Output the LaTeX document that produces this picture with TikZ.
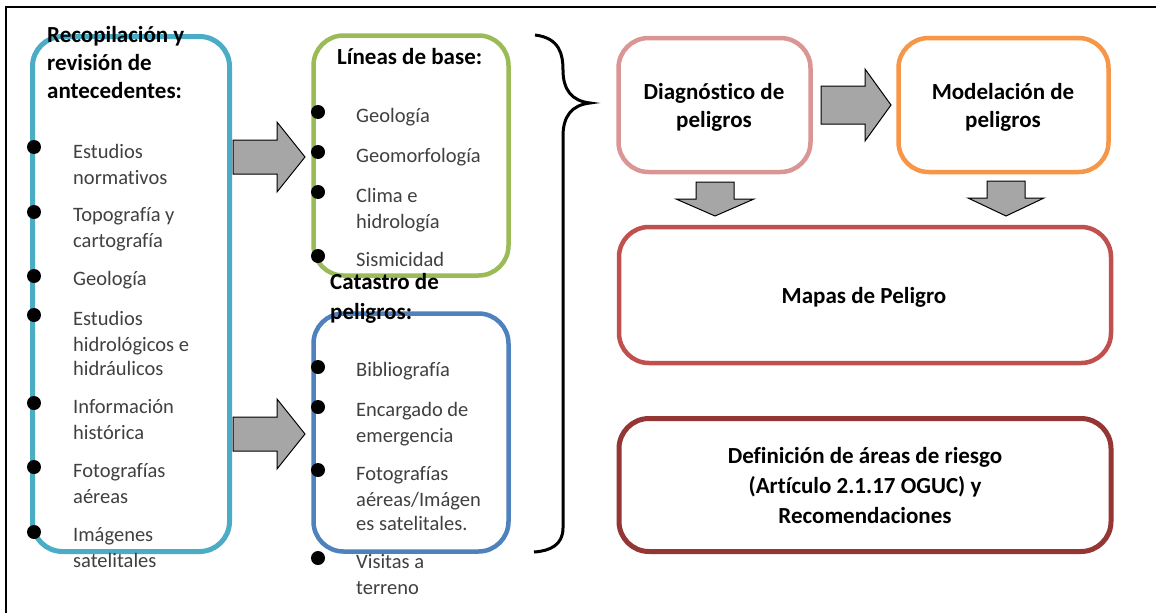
\documentclass[tikz,border=0pt]{standalone}
\usepackage{fontspec}
\setmainfont{Carlito}[RawFeature=-liga]
\definecolor{cyanb}{HTML}{4BACC6}
\definecolor{greenb}{HTML}{9BBB59}
\definecolor{blueb}{HTML}{4F81BD}
\definecolor{pinkb}{HTML}{D99694}
\definecolor{orangeb}{HTML}{F79646}
\definecolor{redb}{HTML}{C0504D}
\definecolor{dredb}{HTML}{943634}
\definecolor{txtg}{HTML}{404040}
\definecolor{arrg}{HTML}{A6A6A6}
\newcommand\rarr[6]{\filldraw[blockarrow] (#1,{#4-#5}) -- (#2,{#4-#5}) -- (#2,{#4-#6}) -- (#3,#4) -- (#2,{#4+#6}) -- (#2,{#4+#5}) -- (#1,{#4+#5}) -- cycle;}
\newcommand\darr[6]{\filldraw[blockarrow] ({#4-#5},#1) -- ({#4-#5},#2) -- ({#4-#6},#2) -- (#4,#3) -- ({#4+#6},#2) -- ({#4+#5},#2) -- ({#4+#5},#1) -- cycle;}
\tikzset{
  rbox/.style={rounded corners=30pt, fill=white, inner sep=0pt},
  blockarrow/.style={fill=arrg, draw=black, line width=1pt, line join=miter},
  itm/.style={anchor=base west, inner sep=0pt, text=txtg, font=\fontsize{20.5}{25}\selectfont},
  hdr/.style={anchor=base west, inner sep=0pt, text=black, font=\fontsize{23}{28}\selectfont\bfseries},
  ctr/.style={anchor=base, inner sep=0pt, text=black, font=\fontsize{23}{28}\selectfont\bfseries},
  bul/.style={circle, fill=black, inner sep=0pt, minimum size=14pt}
}
\begin{document}
\begin{tikzpicture}[x=1pt,y=-1pt]
\useasboundingbox (0,0) rectangle (1156,613);
\fill[white] (0,0) rectangle (1156,613);
\draw[line width=2pt] (6,613) -- (6,7) -- (1156,7);
% boxes
\node[rbox, draw=cyanb, line width=5pt, minimum width=197pt, minimum height=515pt] (lb) at (131,294) {};
\node[rbox, draw=greenb, line width=4.5pt, minimum width=195pt, minimum height=240pt] (gb) at (411,155.5) {};
\node[rbox, draw=blueb, line width=4.5pt, minimum width=195pt, minimum height=238pt] (bb) at (411,432.5) {};
\node[rbox, draw=pinkb, line width=4.5pt, minimum width=192pt, minimum height=134pt] (pb) at (714.5,105) {};
\node[rbox, draw=orangeb, line width=4.5pt, minimum width=210pt, minimum height=134pt] (ob) at (1003.5,105) {};
\node[rbox, draw=redb, line width=4.5pt, minimum width=492pt, minimum height=136pt] (mb) at (865,295) {};
\node[rbox, draw=dredb, line width=5pt, minimum width=492pt, minimum height=133pt] (db) at (865,485) {};
% block arrows
\rarr{233}{277}{305}{157}{17}{35}
\rarr{233}{277}{305}{434}{17}{35}
\rarr{821}{865}{891}{105}{19}{36}
\darr{182}{199}{216}{715}{19}{39}
\darr{181}{198}{216}{1006}{19}{38}
% brace
\draw[line width=3pt] (535,35) .. controls (560,38) and (563,55) .. (563,70) .. controls (563,90) and (572,101) .. (590,103) .. controls (572,105) and (563,116) .. (563,136) -- (563,528) .. controls (563,545) and (550,551) .. (534,552);
% left box text
\node[hdr] (h1a) at (47,42) {Recopilación y};
\node[hdr] (h1b) at (47,70) {revisión de};
\node[hdr] (h1c) at (47,98) {antecedentes:};
\foreach \y/\n in {147/l1,212/l2,276/l3,315/l4,403/l5,467/l6,532/l7} \node[bul] (\n) at (34,\y) {};
\node[itm] (t1a) at (73,158) {Estudios};
\node[itm] (t1b) at (73,184) {normativos};
\node[itm] (t2a) at (73,221) {Topografía y};
\node[itm] (t2b) at (73,247) {cartografía};
\node[itm] (t3a) at (73,285) {Geología};
\node[itm] (t4a) at (73,325) {Estudios};
\node[itm] (t4b) at (73,351) {hidrológicos e};
\node[itm] (t4c) at (73,375) {hidráulicos};
\node[itm] (t5a) at (73,413) {Información};
\node[itm] (t5b) at (73,439) {histórica};
\node[itm] (t6a) at (73,477) {Fotografías};
\node[itm] (t6b) at (73,503) {aéreas};
\node[itm] (t7a) at (73,541) {Imágenes};
\node[itm] (t7b) at (73,567) {satelitales};
% green box text
\node[hdr] (h2) at (337,64) {Líneas de base:};
\foreach \y/\n in {112/g1,152/g2,192/g3,256/g4} \node[bul] (\n) at (318,\y) {};
\node[itm] (u1) at (356,122) {Geología};
\node[itm] (u2) at (356,162) {Geomorfología};
\node[itm] (u3a) at (356,202) {Clima e};
\node[itm] (u3b) at (356,228) {hidrología};
\node[itm] (u4) at (356,266) {Sismicidad};
% blue box text
\node[hdr] (h3a) at (330,289) {Catastro de};
\node[hdr] (h3b) at (330,319) {peligros:};
\foreach \y/\n in {367/b1,407/b2,470/b3,558/b4} \node[bul] (\n) at (318,\y) {};
\node[itm] (v1) at (356,376) {Bibliografía};
\node[itm] (v2a) at (356,416) {Encargado de};
\node[itm] (v2b) at (356,442) {emergencia};
\node[itm] (v3a) at (356,480) {Fotografías};
\node[itm] (v3b) at (356,506) {aéreas/Imágen};
\node[itm] (v3c) at (356,530) {es satelitales.};
\node[itm] (v4a) at (356,568) {Visitas a};
\node[itm] (v4b) at (356,594) {terreno};
% right boxes text
\node[ctr] (p1) at (714,99) {Diagnóstico de};
\node[ctr] (p2) at (714,127) {peligros};
\node[ctr] (o1) at (1003,99) {Modelación de};
\node[ctr] (o2) at (1003,127) {peligros};
\node[ctr] (m1) at (864,303) {Mapas de Peligro};
\node[ctr] (d1) at (865,463) {Definición de áreas de riesgo};
\node[ctr] (d2) at (865,493) {(Artículo 2.1.17 OGUC) y};
\node[ctr] (d3) at (865,523) {Recomendaciones};
\end{tikzpicture}
\end{document}
